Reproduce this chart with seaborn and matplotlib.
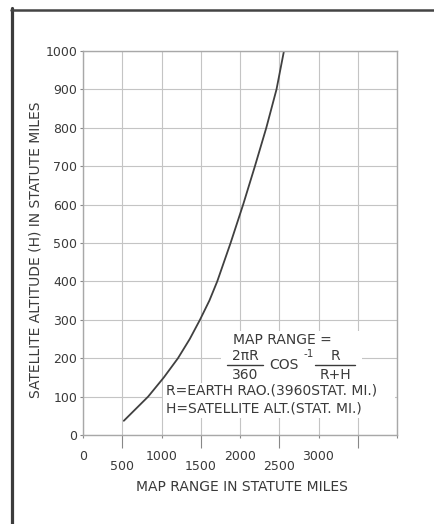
import matplotlib
matplotlib.use("Agg")
import matplotlib.pyplot as plt
from matplotlib.lines import Line2D
from matplotlib.patches import Rectangle
import seaborn as sns
import pandas as pd

# valores (altitud en millas, rango en millas)
altitud = [37, 100, 150, 200, 250, 300, 350, 400, 500, 600, 700, 800, 900, 1000]
rango = [520, 830, 1030, 1210, 1360, 1490, 1610, 1710, 1880, 2040, 2190, 2335, 2465, 2560]

ticks_mayores = [0, 1000, 2000, 3000, 4000]
etiquetas_mayores = ["0", "1000", "2000", "3000", ""]
ticks_menores = [500, 1500, 2500, 3500]
etiquetas_menores = ["500", "1500", "2500", ""]
ticks_y = list(range(0, 1001, 100))

TINTA = "#3a3a3a"

sns.set_theme(style="whitegrid")
plt.rcParams["font.family"] = ["DejaVu Sans"]

fig = plt.figure(figsize=(4.34, 5.24), dpi=100)
ax = fig.add_axes([83 / 434, 1 - 435 / 524, 314 / 434, 384 / 524])

df = pd.DataFrame({"rango": rango, "altitud": altitud})
sns.lineplot(data=df, x="rango", y="altitud", ax=ax, color="#404040", linewidth=1.3)

ax.set_xlim(0, 4000)
ax.set_ylim(0, 1000)

# ticks x escalonados
ax.set_xticks(ticks_mayores, labels=etiquetas_mayores)
ax.set_xticks(ticks_menores, labels=etiquetas_menores, minor=True)
ax.set_yticks(ticks_y, labels=[str(v) for v in ticks_y])
ax.grid(which="both", color="#c4c4c4", linewidth=0.8)
ax.tick_params(axis="x", which="major", bottom=True, length=2, width=0.8, pad=9,
               labelsize=9, colors="#888888", labelcolor=TINTA)
ax.tick_params(axis="x", which="minor", bottom=True, length=9, width=0.8, pad=9,
               labelsize=9, colors="#888888", labelcolor=TINTA)
ax.tick_params(axis="y", left=True, length=2, width=0.8, pad=2,
               labelsize=9, colors="#888888", labelcolor=TINTA)
for s in ax.spines.values():
    s.set_color("#a8a8a8")
    s.set_linewidth(1.0)

ax.set_xlabel("MAP RANGE IN STATUTE MILES", fontsize=10, color=TINTA)
ax.set_ylabel("SATELLITE ALTITUDE (H) IN STATUTE MILES", fontsize=10, color=TINTA)
ax.xaxis.set_label_coords(0.506, -0.118)
ax.yaxis.set_label_coords(-0.128, 0.482)

# fondo blanco detras de la formula
ax.add_patch(Rectangle((1760, 135), 1800, 135, facecolor="white", edgecolor="none", zorder=2))
ax.add_patch(Rectangle((1020, 45), 2960, 90, facecolor="white", edgecolor="none", zorder=2))

kw = dict(fontsize=10, color=TINTA, va="center", zorder=3)
ax.text(2540, 247, "MAP RANGE =", ha="center", **kw)
ax.text(2063, 206, "2\u03c0R", ha="center", **kw)
ax.text(2063, 157, "360", ha="center", **kw)
ax.text(2560, 182, "COS", ha="center", **kw)
ax.text(2870, 212, "-1", fontsize=7.5, color=TINTA, ha="center", va="center", zorder=3)
ax.text(3210, 206, "R", ha="center", **kw)
ax.text(3210, 157, "R+H", ha="center", **kw)
ax.add_line(Line2D([1830, 2290], [182, 182], color=TINTA, linewidth=1.0, zorder=3))
ax.add_line(Line2D([2950, 3470], [182, 182], color=TINTA, linewidth=1.0, zorder=3))
ax.text(1060, 115, "R=EARTH RAO.(3960STAT. MI.)", ha="left", **kw)
ax.text(1060, 68, "H=SATELLITE ALT.(STAT. MI.)", ha="left", **kw)

# marco exterior
fig.add_artist(Line2D([11.5 / 434, 11.5 / 434], [0, 1 - 8 / 524], color="#3c3c3c",
                      linewidth=2.3, transform=fig.transFigure))
fig.add_artist(Line2D([11 / 434, 1], [1 - 9.5 / 524, 1 - 9.5 / 524], color="#444444",
                      linewidth=1.8, transform=fig.transFigure))

fig.savefig("out.png", dpi=100)
